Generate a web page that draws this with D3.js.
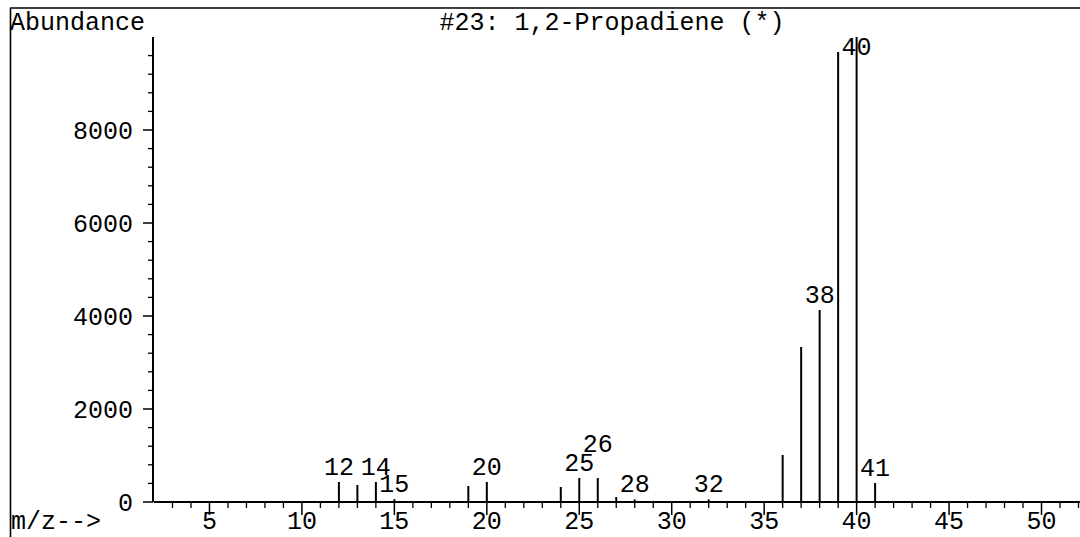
<!DOCTYPE html>
<html>
<head>
<meta charset="utf-8">
<script src="https://cdn.jsdelivr.net/npm/d3@7"></script>
<style>
  html, body { margin: 0; padding: 0; background: #fff; }
  svg { display: block; }
  text { font-family: "Liberation Mono", "Courier New", monospace; fill: #000; }
</style>
</head>
<body>
<svg id="chart" width="1080" height="537"></svg>
<script>
// ---- data ----
const title = "#23: 1,2-Propadiene (*)";
const yTitle = "Abundance";
const xTitle = "m/z-->";
const mz =        [12,  13,  14,  15, 19,  20,  24,  25,  26,  27,  28, 32, 36,   37,   38,   39,   40,    41];
const abundance = [430, 366, 430, 60, 344, 430, 323, 516, 516, 108, 55, 55, 1011, 3333, 4129, 9677, 10000, 409];
const labeledMz = [12, 14, 15, 20, 25, 26, 28, 32, 38, 40, 41];
const xTicks = [5, 10, 15, 20, 25, 30, 35, 40, 45, 50];
const yTicks = [0, 2000, 4000, 6000, 8000];

// ---- layout ----
const W = 1080, H = 537;
const svg = d3.select("#chart");
const x = d3.scaleLinear().domain([2, 52]).range([154, 1078.5]);
const y = d3.scaleLinear().domain([0, 10000]).range([502, 37]);
const fs = 25;

// frame (top + left)
svg.append("line").attr("x1", 10).attr("x2", W).attr("y1", 8).attr("y2", 8)
  .attr("stroke", "#000").attr("stroke-width", 1.6);
svg.append("line").attr("x1", 10.5).attr("x2", 10.5).attr("y1", 8).attr("y2", H)
  .attr("stroke", "#000").attr("stroke-width", 1.6);

// titles
svg.append("text").attr("x", 10).attr("y", 30).attr("font-size", fs).text(yTitle);
svg.append("text").attr("x", 612).attr("y", 30).attr("font-size", fs)
  .attr("text-anchor", "middle").text(title);
svg.append("text").attr("x", 11).attr("y", 529).attr("font-size", fs).text(xTitle);

// y axis
const yAxisG = svg.append("g").attr("transform", `translate(${x(2) - 1},0)`);
yAxisG.append("line").attr("x1", 0).attr("x2", 0).attr("y1", y(10000)).attr("y2", y(0))
  .attr("stroke", "#000").attr("stroke-width", 2);
const yMinor = d3.range(0, 10000, 400).filter(v => !yTicks.includes(v));
yAxisG.selectAll(".ymin").data(yMinor).join("line")
  .attr("x1", -5).attr("x2", 0).attr("y1", d => y(d)).attr("y2", d => y(d))
  .attr("stroke", "#000").attr("stroke-width", 1.3);
yAxisG.selectAll(".ymaj").data(yTicks).join("line")
  .attr("x1", -10).attr("x2", 0).attr("y1", d => y(d)).attr("y2", d => y(d))
  .attr("stroke", "#000").attr("stroke-width", 1.5);
yAxisG.selectAll(".ylab").data(yTicks).join("text")
  .attr("x", -20).attr("y", d => y(d)).attr("dy", "0.35em")
  .attr("text-anchor", "end").attr("font-size", fs).text(d => d);

// x axis
const xAxisG = svg.append("g");
xAxisG.append("line").attr("x1", x(2)).attr("x2", W).attr("y1", y(0)).attr("y2", y(0))
  .attr("stroke", "#000").attr("stroke-width", 2);
const xMinor = d3.range(3, 53, 1).filter(v => !xTicks.includes(v));
xAxisG.selectAll(".xmin").data(xMinor).join("line")
  .attr("x1", d => x(d)).attr("x2", d => x(d)).attr("y1", y(0)).attr("y2", y(0) + 6)
  .attr("stroke", "#000").attr("stroke-width", 1.3);
xAxisG.selectAll(".xmaj").data(xTicks).join("line")
  .attr("x1", d => x(d)).attr("x2", d => x(d)).attr("y1", y(0)).attr("y2", y(0) + 13)
  .attr("stroke", "#000").attr("stroke-width", 1.5);
xAxisG.selectAll(".xlab").data(xTicks).join("text")
  .attr("x", d => x(d)).attr("y", 529)
  .attr("text-anchor", "middle").attr("font-size", fs).text(d => d);

// peaks
const peaks = mz.map((m, i) => ({ mz: m, ab: abundance[i] }));
svg.append("g").selectAll("line").data(peaks).join("line")
  .attr("x1", d => x(d.mz)).attr("x2", d => x(d.mz))
  .attr("y1", y(0)).attr("y2", d => y(d.ab))
  .attr("stroke", "#000").attr("stroke-width", 2);

// peak labels with simple collision avoidance
const lblH = 17, lblW = 30;
const labeled = peaks.filter(p => labeledMz.includes(p.mz))
  .sort((a, b) => b.ab - a.ab);
const placed = [];
labeled.forEach(p => {
  let by = Math.max(y(p.ab) - 7, 55);
  const cx = x(p.mz);
  let moved = true;
  while (moved) {
    moved = false;
    for (const q of placed) {
      if (Math.abs(q.cx - cx) < lblW && by > q.by - lblH && by - lblH < q.by) {
        by = q.by - lblH - 2; moved = true;
      }
    }
  }
  placed.push({ cx, by, mz: p.mz });
});
svg.append("g").selectAll("text").data(placed).join("text")
  .attr("x", d => d.cx).attr("y", d => d.by)
  .attr("text-anchor", "middle").attr("font-size", fs).text(d => d.mz);
</script>
</body>
</html>
